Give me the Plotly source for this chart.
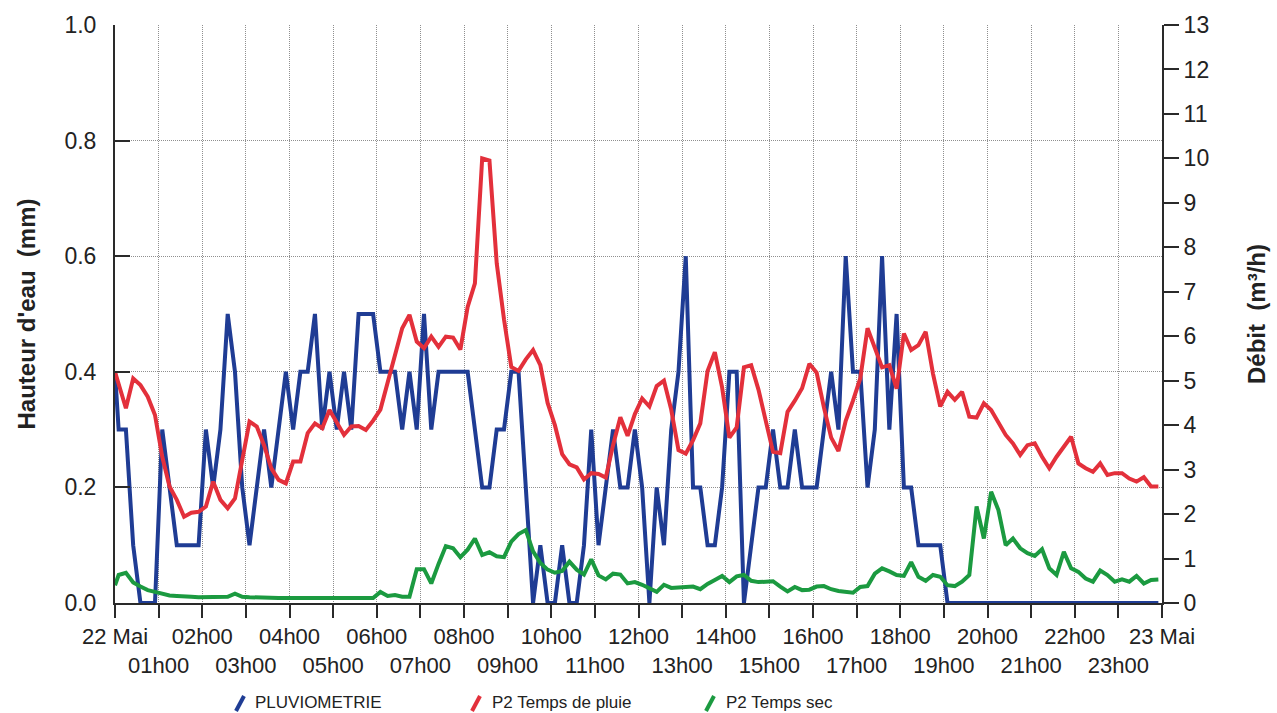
import plotly.graph_objects as go

# ---------------- data ----------------
# sample times, minutes after 22 Mai 00h00 (10-minute records)
minutes = [0] + [5 + 10 * k for k in range(144)]

pluviometrie = [
    0.4,
    0.3, 0.3, 0.1, 0.0, 0.0, 0.0, 0.3, 0.2, 0.1, 0.1, 0.1, 0.1,
    0.3, 0.2, 0.3, 0.5, 0.4, 0.2, 0.1, 0.2, 0.3, 0.2, 0.3, 0.4,
    0.3, 0.4, 0.4, 0.5, 0.3, 0.4, 0.3, 0.4, 0.3, 0.5, 0.5, 0.5,
    0.4, 0.4, 0.4, 0.3, 0.4, 0.3, 0.5, 0.3, 0.4, 0.4, 0.4, 0.4,
    0.4, 0.3, 0.2, 0.2, 0.3, 0.3, 0.4, 0.4, 0.2, 0.0, 0.1, 0.0,
    0.0, 0.1, 0.0, 0.0, 0.1, 0.3, 0.1, 0.2, 0.3, 0.2, 0.2, 0.3,
    0.2, 0.0, 0.2, 0.1, 0.3, 0.4, 0.6, 0.2, 0.2, 0.1, 0.1, 0.2,
    0.4, 0.4, 0.0, 0.1, 0.2, 0.2, 0.3, 0.2, 0.2, 0.3, 0.2, 0.2,
    0.2, 0.3, 0.4, 0.3, 0.6, 0.4, 0.4, 0.2, 0.3, 0.6, 0.3, 0.5,
    0.2, 0.2, 0.1, 0.1, 0.1, 0.1, 0.0, 0.0, 0.0, 0.0, 0.0, 0.0,
    0.0, 0.0, 0.0, 0.0, 0.0, 0.0, 0.0, 0.0, 0.0, 0.0, 0.0, 0.0,
    0.0, 0.0, 0.0, 0.0, 0.0, 0.0, 0.0, 0.0, 0.0, 0.0, 0.0, 0.0,
]

p2_temps_de_pluie = [
    5.2,
    4.95, 4.38, 5.05, 4.90, 4.64, 4.23, 3.29, 2.62, 2.32, 1.94, 2.03, 2.05,
    2.17, 2.73, 2.32, 2.13, 2.35, 3.25, 4.08, 3.97, 3.55, 3.03, 2.77, 2.69,
    3.18, 3.18, 3.82, 4.04, 3.93, 4.34, 4.04, 3.78, 3.97, 3.98, 3.89, 4.10,
    4.35, 4.97, 5.58, 6.18, 6.48, 5.88, 5.73, 5.99, 5.76, 5.99, 5.97, 5.70,
    6.66, 7.19, 10.0, 9.95, 7.64, 6.38, 5.31, 5.22, 5.48, 5.69, 5.35, 4.50,
    4.00, 3.35, 3.12, 3.05, 2.78, 2.92, 2.90, 2.82, 3.55, 4.18, 3.76, 4.25,
    4.60, 4.42, 4.88, 5.00, 4.35, 3.44, 3.36, 3.66, 4.04, 5.22, 5.64, 4.85,
    3.72, 3.95, 5.30, 5.35, 4.80, 4.10, 3.40, 3.37, 4.30, 4.55, 4.83, 5.38,
    5.18, 4.40, 3.72, 3.42, 4.10, 4.55, 5.05, 6.18, 5.73, 5.30, 5.35, 4.82,
    6.06, 5.69, 5.80, 6.10, 5.16, 4.42, 4.75, 4.57, 4.75, 4.19, 4.17, 4.49,
    4.34, 4.04, 3.78, 3.59, 3.33, 3.55, 3.59, 3.29, 3.03, 3.29, 3.52, 3.74,
    3.14, 3.03, 2.95, 3.14, 2.88, 2.92, 2.92, 2.80, 2.73, 2.83, 2.62, 2.62,
]

p2_temps_sec = [
    0.40,
    0.63, 0.68, 0.46, 0.37, 0.29, 0.25, 0.20, 0.17, 0.16, 0.14, 0.14, 0.13,
    0.13, 0.13, 0.13, 0.14, 0.21, 0.14, 0.13, 0.12, 0.12, 0.12, 0.11, 0.11,
    0.11, 0.11, 0.10, 0.10, 0.10, 0.10, 0.10, 0.10, 0.11, 0.12, 0.12, 0.11,
    0.25, 0.16, 0.18, 0.14, 0.14, 0.76, 0.76, 0.44, 0.88, 1.28, 1.23, 1.03,
    1.20, 1.45, 1.08, 1.14, 1.05, 1.03, 1.38, 1.55, 1.64, 1.16, 0.90, 0.75,
    0.68, 0.72, 0.93, 0.75, 0.64, 0.98, 0.62, 0.53, 0.66, 0.64, 0.44, 0.47,
    0.41, 0.32, 0.25, 0.41, 0.34, 0.35, 0.37, 0.37, 0.31, 0.43, 0.52, 0.61,
    0.47, 0.60, 0.63, 0.50, 0.47, 0.47, 0.49, 0.37, 0.26, 0.36, 0.29, 0.30,
    0.37, 0.38, 0.31, 0.27, 0.25, 0.23, 0.36, 0.38, 0.66, 0.78, 0.71, 0.63,
    0.61, 0.92, 0.59, 0.50, 0.63, 0.59, 0.40, 0.38, 0.48, 0.63, 2.17, 1.45,
    2.50, 2.09, 1.30, 1.45, 1.23, 1.12, 1.06, 1.21, 0.78, 0.63, 1.15, 0.78,
    0.70, 0.55, 0.48, 0.73, 0.63, 0.48, 0.53, 0.48, 0.61, 0.44, 0.52, 0.53,
]

series_names = ["PLUVIOMETRIE", "P2 Temps de pluie", "P2 Temps sec"]

hour_ticks = list(range(25))
hour_labels = ["22 Mai", "01h00", "02h00", "03h00", "04h00", "05h00", "06h00",
               "07h00", "08h00", "09h00", "10h00", "11h00", "12h00", "13h00",
               "14h00", "15h00", "16h00", "17h00", "18h00", "19h00", "20h00",
               "21h00", "22h00", "23h00", "23 Mai"]

left_ticks = [0.0, 0.2, 0.4, 0.6, 0.8, 1.0]
right_ticks = list(range(14))

# ---------------- styling ----------------
BLUE = "#1f3c94"
RED = "#e3303b"
GREEN = "#1b9a40"
AXIS = "#2a2a2a"
GRID = "#8f8f8f"
TXT = "#222222"
SANS = "Liberation Sans, Arial, sans-serif"

hours = [m / 60 for m in minutes]

fig = go.Figure()
fig.add_trace(go.Scatter(x=hours, y=p2_temps_de_pluie, yaxis="y2",
                         mode="lines", name=series_names[1],
                         line=dict(color=RED, width=4)))
fig.add_trace(go.Scatter(x=hours, y=p2_temps_sec, yaxis="y2",
                         mode="lines", name=series_names[2],
                         line=dict(color=GREEN, width=4)))
fig.add_trace(go.Scatter(x=hours, y=pluviometrie, yaxis="y",
                         mode="lines", name=series_names[0],
                         line=dict(color=BLUE, width=4)))

# odd hours go on a second label row
tick_text = [lab if i % 2 == 0 else "<br>" + lab
             for i, lab in enumerate(hour_labels)]

L, R, T, B = 115, 115, 25, 110
W, H = 1277, 713
PW, PH = W - L - R, H - T - B


def px_to_paper(px, py):
    return (px - L) / PW, (H - B - py) / PH


# custom legend (slanted colour strokes + text)
legend_items = [(series_names[0], BLUE, 236, 253),
                (series_names[1], RED, 472, 490),
                (series_names[2], GREEN, 706, 724)]
shapes, annotations = [], []
for name, col, mx, tx in legend_items:
    x0, y0 = px_to_paper(mx, 711)
    x1, y1 = px_to_paper(mx + 8, 696)
    shapes.append(dict(type="line", xref="paper", yref="paper", x0=x0, y0=y0,
                       x1=x1, y1=y1, line=dict(color=col, width=4)))
    ax, ay = px_to_paper(tx, 702)
    annotations.append(dict(text=name, xref="paper", yref="paper", x=ax, y=ay,
                            xanchor="left", yanchor="middle", showarrow=False,
                            font=dict(family=SANS, size=17, color=TXT)))

fig.update_layout(
    width=W, height=H,
    margin=dict(l=L, r=R, t=T, b=B),
    paper_bgcolor="white", plot_bgcolor="white",
    showlegend=False,
    shapes=shapes, annotations=annotations,
    xaxis=dict(range=[0, 24], tickmode="array", tickvals=hour_ticks,
               ticktext=tick_text, tickangle=0,
               ticks="outside", ticklen=13, tickwidth=1.5, tickcolor=AXIS,
               showline=True, linecolor=AXIS, linewidth=2,
               showgrid=True, gridcolor=GRID, gridwidth=1, griddash="1px,1px",
               zeroline=False, automargin=False,
               tickfont=dict(family=SANS, size=22, color=TXT)),
    yaxis=dict(range=[0, 1], tickmode="array", tickvals=left_ticks,
               ticktext=[f"{v:.1f}" for v in left_ticks],
               ticks="inside", ticklen=15, tickwidth=2, tickcolor=AXIS,
               showline=True, linecolor=AXIS, linewidth=2,
               showgrid=True, gridcolor=GRID, gridwidth=1, griddash="1px,1px",
               zeroline=False, automargin=False, ticklabelstandoff=12,
               tickfont=dict(family=SANS, size=23, color=TXT),
               title=dict(text="<b>Hauteur d'eau  (mm)</b>", standoff=22,
                          font=dict(family=SANS, size=24, color=TXT))),
    yaxis2=dict(range=[0, 13], overlaying="y", side="right", anchor="x",
                tickmode="array", tickvals=right_ticks,
                ticks="outside", ticklen=15, tickwidth=2, tickcolor=AXIS,
                showline=True, linecolor=AXIS, linewidth=2,
                showgrid=False, zeroline=False, automargin=False,
                tickfont=dict(family=SANS, size=23, color=TXT),
                title=dict(text="<b>Débit  (m³/h)</b>", standoff=40,
                           font=dict(family=SANS, size=24, color=TXT))),
)

fig.write_html("out.html",
               config={"displayModeBar": False},
               post_script="document.body.style.margin='0';"
                           "document.body.style.overflow='hidden';")
